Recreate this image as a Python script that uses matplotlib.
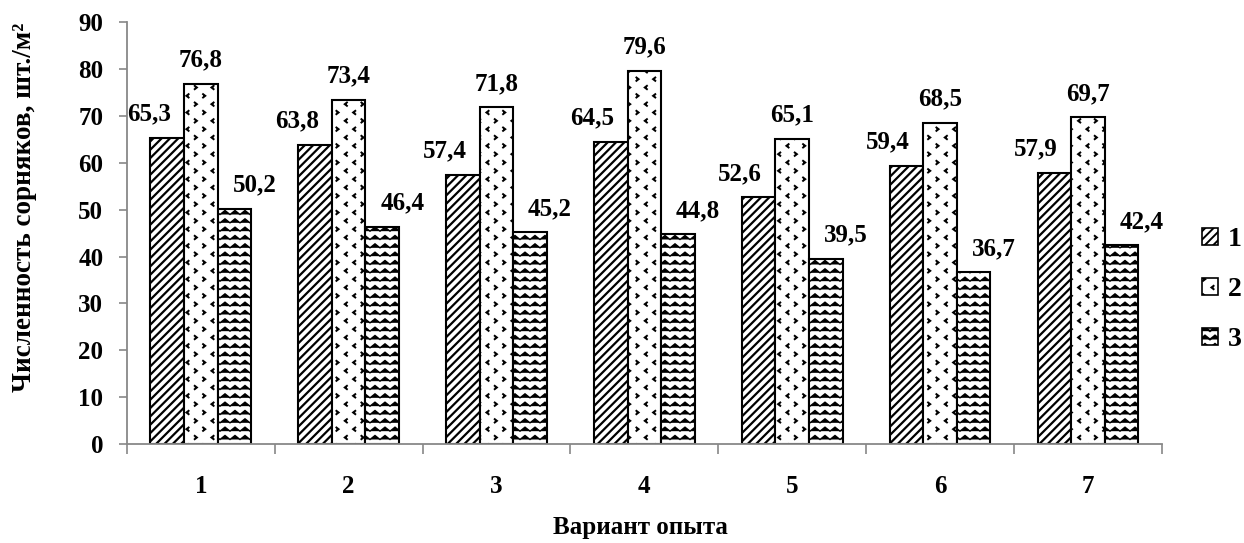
import numpy as np
import matplotlib
matplotlib.use('Agg')
from matplotlib import pyplot as plt
from matplotlib import hatch as mhatch
from matplotlib.patches import Patch

# wavy rows for the third series
class ZigzagHatch(mhatch.HatchPatternBase):
    def __init__(self, hatch, density):
        self.num_rows = int(hatch.count('z') * density)
        self.num_teeth = 20
        self.num_vertices = self.num_rows * (self.num_teeth + 1)

    def set_vertices_and_codes(self, vertices, codes):
        xs = np.linspace(0, 1, self.num_teeth + 1)
        amp = 0.24 / max(self.num_rows, 1)
        k = 0
        for i in range(self.num_rows):
            y0 = (i + 0.5) / self.num_rows
            for j, x in enumerate(xs):
                vertices[k] = (x, y0 + (amp if j % 2 else -amp))
                codes[k] = 1 if j == 0 else 2
                k += 1

# small "<" / ">" marks for the second series
class ChevronHatch(mhatch.HatchPatternBase):
    def __init__(self, hatch, density):
        self.num_rows = int(hatch.count('c') * density)
        self.num_cols = 12 if self.num_rows else 0
        self.num_vertices = self.num_rows * (self.num_cols // 2) * 3

    def set_vertices_and_codes(self, vertices, codes):
        k = 0
        w = 0.13 / max(self.num_cols, 1)
        h = 0.2 / max(self.num_rows, 1)
        for i in range(self.num_rows):
            yc = (i + 0.5) / self.num_rows
            for j in range(self.num_cols // 2):
                # staggered: every other row shifted by one column
                col = 2 * j + (i % 2)
                xc = (col + 0.5) / self.num_cols
                d = 1 if (j + i) % 2 == 0 else -1
                vertices[k] = (xc - d * w, yc + h)
                vertices[k + 1] = (xc + d * w, yc)
                vertices[k + 2] = (xc - d * w, yc - h)
                codes[k:k + 3] = [1, 2, 2]
                k += 3

mhatch._hatch_types.extend([ZigzagHatch, ChevronHatch])

plt.rcParams['font.family'] = 'Liberation Serif'
plt.rcParams['font.weight'] = 'bold'
plt.rcParams['hatch.linewidth'] = 1.4

variants = ['1', '2', '3', '4', '5', '6', '7']
series_names = ['1', '2', '3']
s1 = [65.3, 63.8, 57.4, 64.5, 52.6, 59.4, 57.9]
s2 = [76.8, 73.4, 71.8, 79.6, 65.1, 68.5, 69.7]
s3 = [50.2, 46.4, 45.2, 44.8, 39.5, 36.7, 42.4]

fig = plt.figure(figsize=(12.44, 5.43), dpi=100)
ax = fig.add_axes([0.102, 0.182, 0.832, 0.7775])

x = np.arange(len(variants))
w = 0.227
hatches = ['////', 'cc', 'zz']
hatch_lw = [1.6, 1.4, 1.0]
shifts = [-0.125, 0.0, 0.135]
handles = []
for i, (vals, hh) in enumerate(zip([s1, s2, s3], hatches)):
    bars = ax.bar(x + (i - 1) * w, vals, w, color='white', edgecolor='black',
                  linewidth=1.5, hatch=hh)
    for b, v in zip(bars, vals):
        if hasattr(b, 'set_hatch_linewidth'):
            b.set_hatch_linewidth(hatch_lw[i])
        ax.annotate(f'{v:.1f}'.replace('.', ','),
                    (b.get_x() + b.get_width() / 2 + shifts[i], v),
                    xytext=(0, 17), textcoords='offset points',
                    ha='center', va='center', fontsize=18, fontweight='bold')
    hp = Patch(facecolor='white', edgecolor='black', hatch=hh,
               linewidth=1.2, label=series_names[i])
    if hasattr(hp, 'set_hatch_linewidth'):
        hp.set_hatch_linewidth(hatch_lw[i])
    handles.append(hp)

ax.set_xlim(-0.5, 6.5)
ax.set_ylim(0, 90)
ax.set_yticks(range(0, 91, 10))

ax.set_xticks(np.arange(-0.5, 7, 1))
ax.set_xticklabels([])
ax.set_xticks(x, minor=True)
ax.set_xticklabels(variants, minor=True)
ax.tick_params(axis='x', which='major', direction='out', length=7, width=1.2, color='#888888')
ax.tick_params(axis='x', which='minor', length=0, pad=22, labelsize=18)
ax.tick_params(axis='y', direction='out', length=6, width=1.2, color='#888888', pad=11, labelsize=18)

for s in ['top', 'right']:
    ax.spines[s].set_visible(False)
for s in ['left', 'bottom']:
    ax.spines[s].set_color('#888888')
    ax.spines[s].set_linewidth(1.3)

ax.set_ylabel('Численность сорняков, шт./м²', fontsize=19.5, fontweight='bold', va='center')
ax.yaxis.set_label_coords(-0.0985, 0.56)
ax.set_xlabel('Вариант опыта', fontsize=18, fontweight='bold', va='center')
ax.xaxis.set_label_coords(0.496, -0.197)

fig.legend(handles=handles, loc='center left', bbox_to_anchor=(0.966, 0.466),
           frameon=False, fontsize=20, handlelength=0.6, handleheight=0.6,
           handletextpad=0.35, labelspacing=0.9, borderpad=0, borderaxespad=0)

fig.savefig('out.png', dpi=100)
